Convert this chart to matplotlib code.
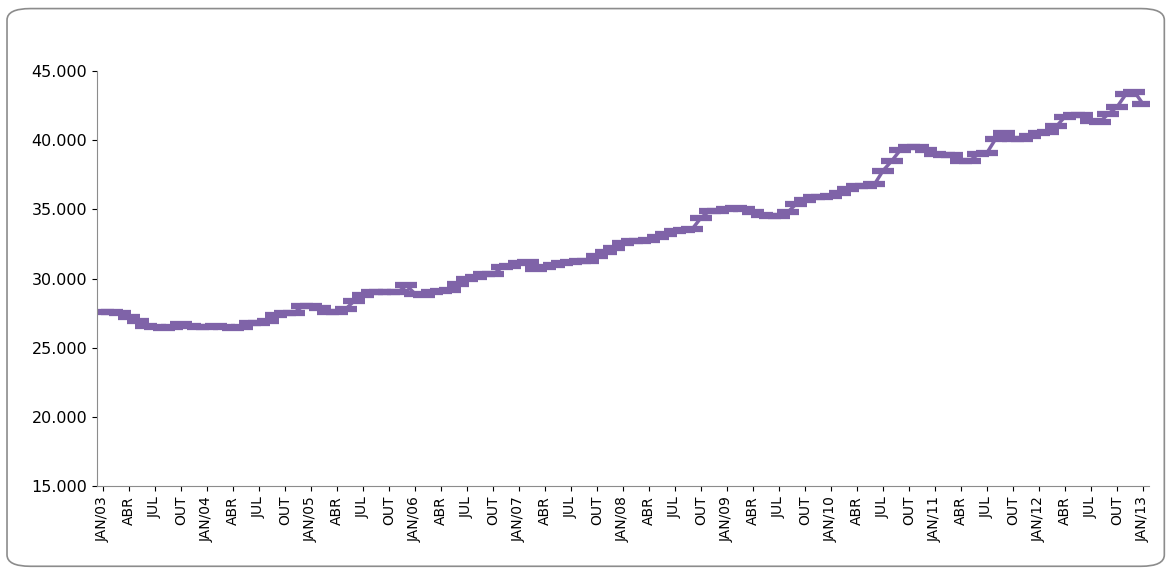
import numpy as np
import matplotlib.pyplot as plt
from matplotlib.patches import FancyBboxPatch
from matplotlib.ticker import FuncFormatter

# monthly values (thousands), Jan/2003 .. Jan/2013
y2003 = [27.6, 27.6, 27.5, 27.2, 26.9, 26.6, 26.5, 26.4, 26.5, 26.7, 26.6, 26.5]
y2004 = [26.5, 26.6, 26.5, 26.4, 26.5, 26.8, 26.8, 26.9, 27.4, 27.5, 27.5, 28.0]
y2005 = [28.0, 27.9, 27.6, 27.6, 27.8, 28.4, 28.8, 29.0, 29.0, 29.0, 29.0, 29.5]
y2006 = [28.9, 28.8, 29.0, 29.1, 29.2, 29.6, 30.0, 30.1, 30.3, 30.3, 30.8, 30.9]
y2007 = [31.1, 31.2, 30.7, 30.8, 31.0, 31.1, 31.2, 31.3, 31.3, 31.6, 31.9, 32.2]
y2008 = [32.6, 32.7, 32.7, 32.8, 33.0, 33.2, 33.4, 33.5, 33.6, 34.4, 34.9, 34.9]
y2009 = [35.0, 35.1, 35.0, 34.8, 34.6, 34.5, 34.5, 34.8, 35.4, 35.7, 35.9, 35.9]
y2010 = [36.0, 36.2, 36.5, 36.7, 36.7, 36.8, 37.8, 38.5, 39.3, 39.5, 39.5, 39.3]
y2011 = [39.0, 38.9, 38.9, 38.5, 38.5, 39.0, 39.1, 40.1, 40.5, 40.1, 40.1, 40.3]
y2012 = [40.5, 40.6, 41.0, 41.7, 41.8, 41.8, 41.4, 41.3, 41.9, 42.4, 43.3, 43.5]
y2013 = [42.6]

values = np.array(y2003 + y2004 + y2005 + y2006 + y2007 + y2008 + y2009
                  + y2010 + y2011 + y2012 + y2013) * 1000
months = ['JAN', 'ABR', 'JUL', 'OUT']

tick_pos = list(range(0, len(values), 3))
tick_labels = []
for i in tick_pos:
    m = months[(i % 12) // 3]
    tick_labels.append(f'JAN/{3 + i // 12:02d}' if m == 'JAN' else m)

fig = plt.figure(figsize=(11.69, 5.72), dpi=100)
fig.patches.append(FancyBboxPatch((0.006, 0.01), 0.99, 0.975,
                                  boxstyle='round,pad=0,rounding_size=0.02',
                                  transform=fig.transFigure, fill=False,
                                  edgecolor='#8c8c8c', linewidth=1.2))
ax = fig.add_axes([0.083, 0.15, 0.9, 0.726])
ax.plot(range(len(values)), values, color='#7F63A8', linewidth=2.5,
        marker='_', markersize=16, markeredgewidth=4.5)
ax.set_ylim(15000, 45000)
ax.set_yticks(range(15000, 45001, 5000))
ax.yaxis.set_major_formatter(FuncFormatter(lambda v, p: f'{v/1000:.0f}.000'))
ax.set_xlim(-0.7, len(values) - 0.3)
ax.set_xticks(tick_pos)
ax.set_xticklabels(tick_labels, rotation=90, fontsize=10)
ax.tick_params(axis='y', labelsize=11.5)
for s in ['top', 'right']:
    ax.spines[s].set_visible(False)
ax.spines['left'].set_color('#8c8c8c')
ax.spines['bottom'].set_color('#8c8c8c')
fig.savefig('out.png')
